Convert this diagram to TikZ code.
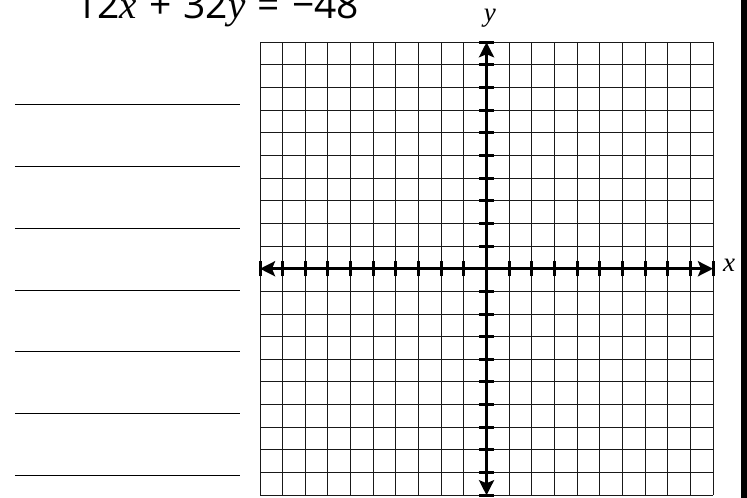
\documentclass[tikz,border=0pt]{standalone}
\usepackage{fontspec}
\setmainfont{Open Sans}
\newfontfamily\varfont{Liberation Serif}
\usetikzlibrary{arrows.meta}
\tikzset{
    axis/.style={line width=3.2pt,
        {Stealth[length=15pt,width=15pt,inset=3pt]}-{Stealth[length=15pt,width=15pt,inset=3pt]}},
    tickmark/.style={line width=3pt},
    answerline/.style={line width=1pt},
    varlabel/.style={font=\fontsize{27}{27}\varfont\itshape},
}
\newcommand{\eqsp}{\ \hspace{2pt}}
\begin{document}
\begin{tikzpicture}[x=22.65pt,y=22.65pt]
    \useasboundingbox (-21.48,-10.12) rectangle (11.50,11.865);
    \draw[step=1,black!90,line width=1pt] (-10,-10) grid (10,10);
    \draw[axis] (-10,0) -- (10,0);
    \draw[axis] (0,-10) -- (0,10);
    \foreach \i in {-10,...,10} {
        \draw[tickmark] (\i,-0.33) -- (\i,0.33);
        \draw[tickmark] (-0.33,\i) -- (0.33,\i);
    }
    \node[varlabel] (xlabel) at (10.71,0.17) {x};
    \node[varlabel] (ylabel) at (0.15,11.04) {y};

    % equation, cut by the top edge
    \node[anchor=base west,inner sep=0pt,font=\fontsize{39}{39}\selectfont] (eqn) at (-18.17,11.06)
        {12{\varfont\itshape x}\eqsp+\eqsp32{\varfont\itshape y}\eqsp=\eqsp−48};

    \foreach \k in {0,...,6}
        \draw[answerline] (-20.82,{7.23-2.723*\k}) -- (-10.88,{7.23-2.723*\k});

    \fill (11.236,-10.12) rectangle (11.50,11.865); % dark strip at the right edge
\end{tikzpicture}
\end{document}
